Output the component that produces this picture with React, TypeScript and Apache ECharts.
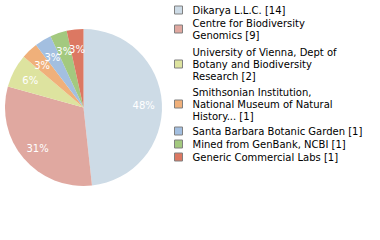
import React, { useEffect, useRef } from "react";
import * as echarts from "echarts";

const categories = [
  "Dikarya L.L.C.",
  "Centre for Biodiversity Genomics",
  "University of Vienna, Dept of Botany and Biodiversity Research",
  "Smithsonian Institution, National Museum of Natural History...",
  "Santa Barbara Botanic Garden",
  "Mined from GenBank, NCBI",
  "Generic Commercial Labs",
];
const counts = [14, 9, 2, 1, 1, 1, 1];
const legendLabels = [
  "Dikarya L.L.C. [14]",
  "Centre for Biodiversity\nGenomics [9]",
  "University of Vienna, Dept of\nBotany and Biodiversity\nResearch [2]",
  "Smithsonian Institution,\nNational Museum of Natural\nHistory... [1]",
  "Santa Barbara Botanic Garden [1]",
  "Mined from GenBank, NCBI [1]",
  "Generic Commercial Labs [1]",
];
const colors = ["#cddbe6", "#e0a8a0", "#dde39f", "#f0b07a", "#a3bfe0", "#a3c97f", "#dc7862"];
const legendTops = [4, 17, 46, 86, 125, 138, 151];

export default function App() {
  const ref = useRef<HTMLDivElement>(null);
  useEffect(() => {
    if (!ref.current) return;
    const chart = echarts.init(ref.current, null, { renderer: "svg" });
    const data = categories.map((c, i) => ({ name: c, value: counts[i], itemStyle: { color: colors[i] } }));
    const fontFamily = "DejaVu Sans";
    chart.setOption({
      animation: false,
      legend: categories.map((c, i) => ({
        data: [c],
        orient: "vertical",
        left: 174,
        top: legendTops[i],
        padding: 0,
        icon: "rect",
        itemWidth: 8,
        itemHeight: 8,
        selectedMode: false,
        itemStyle: { borderColor: "#808080", borderWidth: 1 },
        formatter: () => legendLabels[i],
        textStyle: {
          fontFamily,
          fontSize: 10,
          lineHeight: 12,
          color: "#000",
          padding: [0, 0, 0, 5],
        },
      })),
      series: [
        {
          type: "pie",
          center: [83.5, 107.5],
          radius: [0, 78.5],
          startAngle: 90,
          clockwise: true,
          data,
          label: { show: false },
          labelLine: { show: false },
          itemStyle: { borderWidth: 0 },
          silent: true,
        },
        {
          type: "pie",
          center: [83.5, 109],
          radius: [36, 78.5],
          startAngle: 90,
          clockwise: true,
          avoidLabelOverlap: false,
          labelLayout: { hideOverlap: false },
          data: data.map((d) => ({ ...d, itemStyle: { color: "rgba(0,0,0,0)" } })),
          silent: true,
          labelLine: { show: false },
          label: {
            show: true,
            position: "inside",
            color: "#fff",
            fontFamily,
            fontSize: 10,
            formatter: (p: any) => Math.floor(p.percent) + "%",
          },
        },
      ],
    });
    return () => chart.dispose();
  }, []);
  return (
    <div
      ref={ref}
      style={{ position: "absolute", left: 0, top: 0, width: 380, height: 240 }}
    />
  );
}
